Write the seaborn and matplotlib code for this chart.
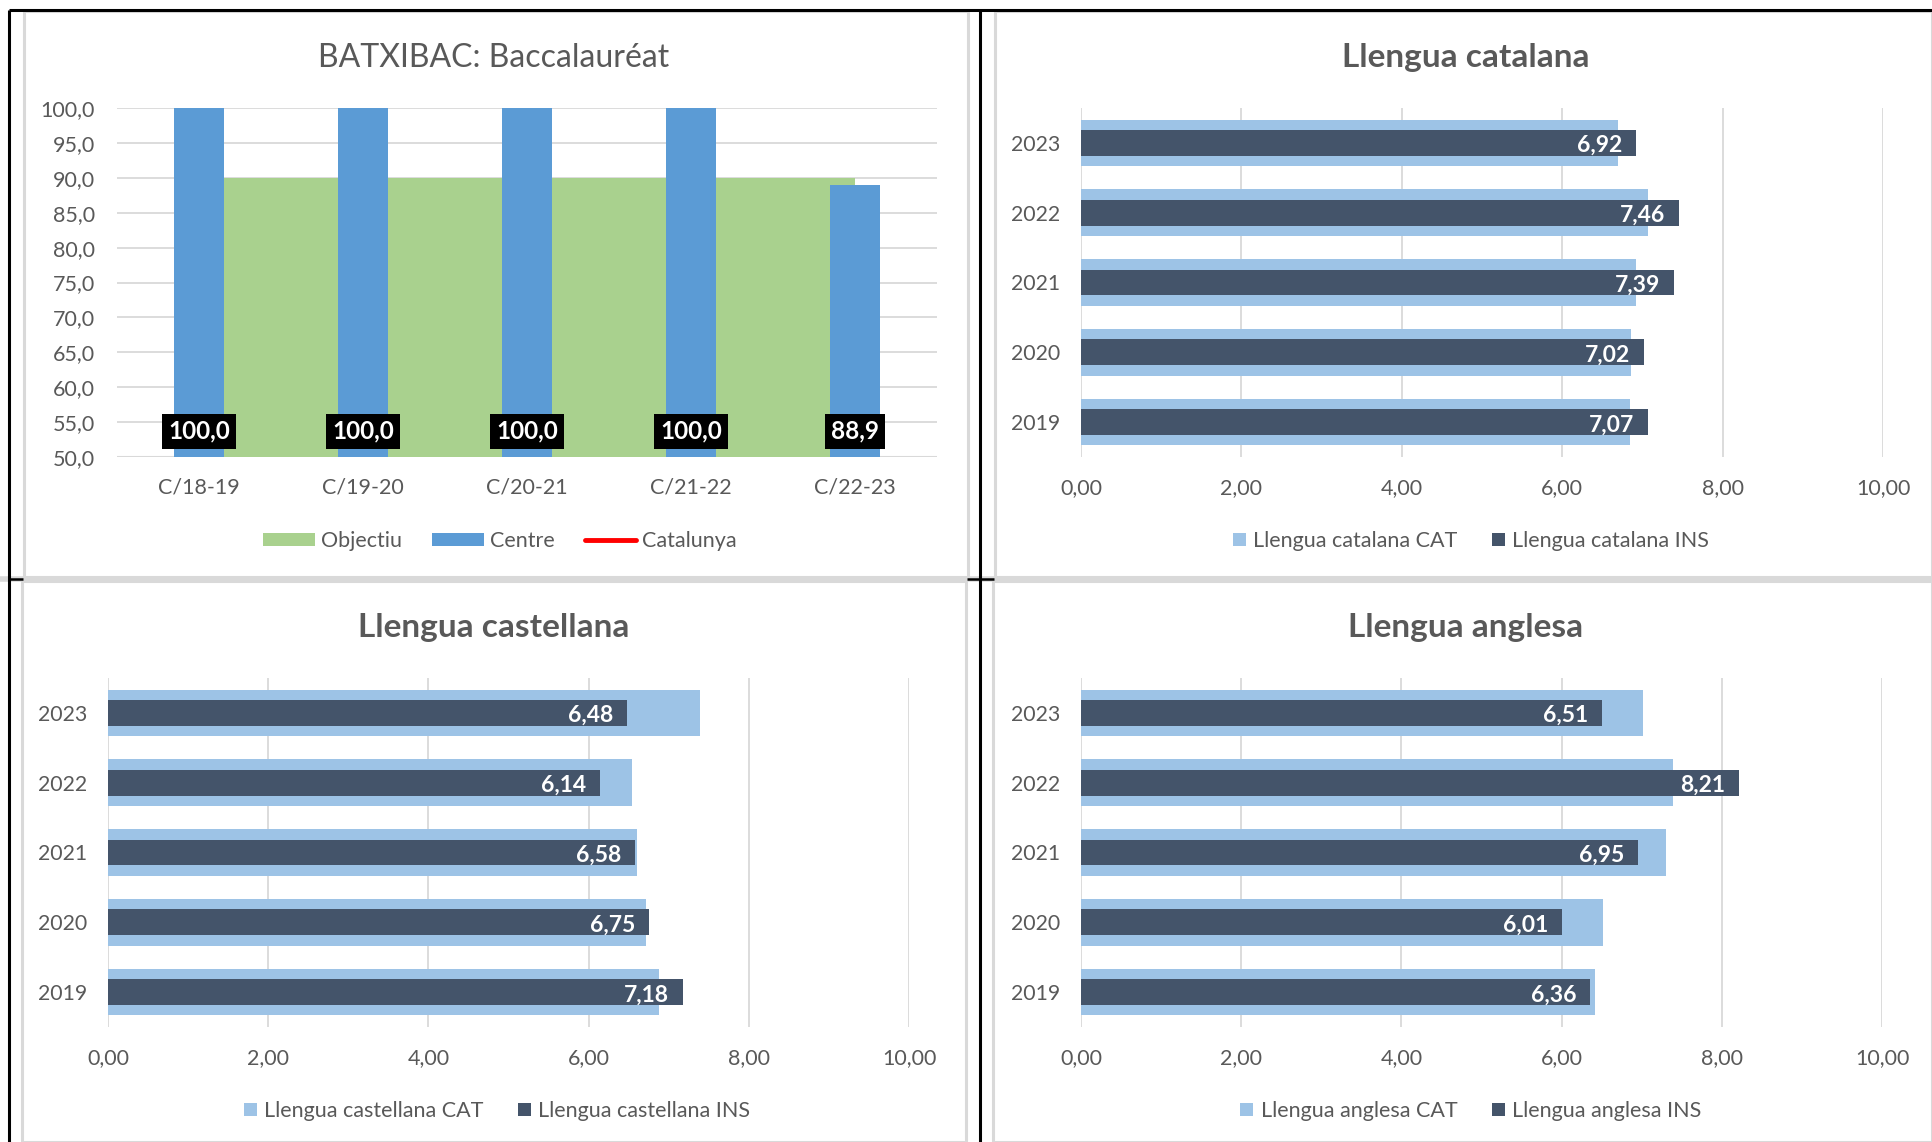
import matplotlib
matplotlib.use("Agg")
import matplotlib.pyplot as plt
import seaborn as sns
import pandas as pd
from matplotlib.lines import Line2D
from matplotlib.patches import Patch, Rectangle

# ---------------- data ----------------
courses = ["C/18-19", "C/19-20", "C/20-21", "C/21-22", "C/22-23"]
objectiu = [90.0, 90.0, 90.0, 90.0, 90.0]
centre = [100.0, 100.0, 100.0, 100.0, 88.9]

years = ["2023", "2022", "2021", "2020", "2019"]
catalana_cat = [6.69, 7.07, 6.92, 6.86, 6.85]
catalana_ins = [6.92, 7.46, 7.39, 7.02, 7.07]
castellana_cat = [7.39, 6.54, 6.60, 6.72, 6.88]
castellana_ins = [6.48, 6.14, 6.58, 6.75, 7.18]
anglesa_cat = [7.02, 7.39, 7.30, 6.52, 6.42]
anglesa_ins = [6.51, 8.21, 6.95, 6.01, 6.36]

y_ticks_top = [50, 55, 60, 65, 70, 75, 80, 85, 90, 95, 100]
x_ticks_h = [0, 2, 4, 6, 8, 10]

# ---------------- style ----------------
sns.set_theme(style="white")
plt.rcParams["font.family"] = ["Lato", "DejaVu Sans"]

TXT = "#595959"
GRID = "#D9D9D9"
GREEN = "#A9D18E"
BLUE = "#5B9BD5"
LBLUE = "#9DC3E6"
DARK = "#44546A"

W, H = 1932, 1142
fig = plt.figure(figsize=(W / 100, H / 100), dpi=100)
fig.patch.set_facecolor("white")


def ax_rect(l, r, t, b):
    return [l / W, 1 - b / H, (r - l) / W, (b - t) / H]


def fmt(v, d):
    return f"{v:.{d}f}".replace(".", ",")


# ---------- panel frames ----------
def px_line(x0, y0, x1, y1, color, lw):
    fig.add_artist(Line2D([x0 / W, x1 / W], [1 - y0 / H, 1 - y1 / H],
                          color=color, lw=lw, transform=fig.transFigure,
                          solid_capstyle="butt", zorder=0))


for (l, r, t, b) in [(24, 968, 11, 577), (995, 1932, 11, 577),
                     (22, 966, 581, 1142), (993, 1932, 581, 1142)]:
    fig.add_artist(Rectangle((l / W, 1 - b / H), (r - l) / W, (b - t) / H,
                             transform=fig.transFigure, fill=False,
                             edgecolor=GRID, lw=2.2, zorder=0))
px_line(0, 579, W, 579, GRID, 4.0)
px_line(9, 10, W, 10, "black", 2.2)
px_line(9, 10, 9, H, "black", 2.2)
px_line(980, 10, 980, H, "black", 2.2)
px_line(9, 579, 23, 579, "black", 1.8)
px_line(967, 579, 994, 579, "black", 1.8)

# ---------- top-left: BATXIBAC ----------
ax = fig.add_axes(ax_rect(117, 937, 108, 457))
df_tl = pd.DataFrame({"curs": courses, "centre": centre, "objectiu": objectiu})
ax.fill_between(range(len(courses)), 50, df_tl["objectiu"], color=GREEN,
                lw=0, zorder=1)
sns.barplot(data=df_tl, x="curs", y="centre", color=BLUE, width=0.31,
            saturation=1, linewidth=0, ax=ax, zorder=2)
ax.set_ylim(50, 100)
ax.set_xlim(-0.5, len(courses) - 0.5)
ax.set_yticks(y_ticks_top)
ax.set_yticklabels([fmt(v, 1) for v in y_ticks_top])
ax.yaxis.grid(True, color=GRID, lw=1.3)
ax.set_axisbelow(True)
for s in ax.spines.values():
    s.set_visible(False)
ax.axhline(50, color=GRID, lw=1.5, zorder=0.5)
ax.tick_params(axis="y", length=0, pad=16, labelsize=15.5, labelcolor=TXT)
ax.tick_params(axis="x", length=0, pad=15, labelsize=15.5, labelcolor=TXT)
ax.set_xlabel("")
ax.set_ylabel("")
for i, v in enumerate(centre):
    ax.annotate(fmt(v, 1), xy=(i, 50), xytext=(0, 18.5),
                textcoords="offset points", ha="center", va="center",
                color="white", fontsize=17.5, fontweight="bold", zorder=5,
                bbox=dict(boxstyle="square,pad=0.24", fc="black", ec="none"))
fig.text(494 / W, 1 - 58 / H, "BATXIBAC: Baccalauréat", ha="center",
         va="center", fontsize=23, color=TXT)
handles = [Patch(facecolor=GREEN, edgecolor="none", label="Objectiu"),
           Patch(facecolor=BLUE, edgecolor="none", label="Centre"),
           Line2D([0], [0], color="#FF0000", lw=3.5, label="Catalunya")]
fig.legend(handles=handles, loc="center", bbox_to_anchor=(500 / W, 1 - 541 / H),
           ncol=3, frameon=False, fontsize=15.5, labelcolor=TXT,
           handlelength=2.4, handleheight=0.56, handletextpad=0.28,
           columnspacing=1.4)


# ---------- horizontal bar charts ----------
def hbar_panel(rect, title, cat_vals, ins_vals, cat_lab, ins_lab, tcx, legx):
    l, r, t, b = rect
    a = fig.add_axes(ax_rect(l, r, t, b))
    df = pd.DataFrame({"year": years, "cat": cat_vals, "ins": ins_vals})
    sns.barplot(data=df, x="cat", y="year", orient="h", order=years,
                color=LBLUE, width=0.67, saturation=1, linewidth=0,
                ax=a, zorder=2)
    sns.barplot(data=df, x="ins", y="year", orient="h", order=years,
                color=DARK, width=0.37, saturation=1, linewidth=0,
                ax=a, zorder=3)
    a.set_xlim(0, 10)
    a.set_ylim(len(years) - 0.5, -0.5)
    a.set_xticks(x_ticks_h)
    a.set_xticklabels([fmt(v, 2) for v in x_ticks_h])
    a.xaxis.grid(True, color=GRID, lw=1.3)
    a.set_axisbelow(True)
    for s in a.spines.values():
        s.set_visible(False)
    a.tick_params(axis="y", length=0, pad=15, labelsize=15.3, labelcolor=TXT)
    a.tick_params(axis="x", length=0, pad=15, labelsize=15.5, labelcolor=TXT)
    a.set_xlabel("")
    a.set_ylabel("")
    for i, v in enumerate(ins_vals):
        a.annotate(fmt(v, 2), xy=(v, i), xytext=(-10, -2),
                   textcoords="offset points", ha="right", va="center",
                   color="white", fontsize=16.5, fontweight="bold", zorder=6)
    fig.text(tcx / W, 1 - (t - 51) / H, title, ha="center", va="center",
             fontsize=24, fontweight="bold", color=TXT)
    hs = [Patch(facecolor=LBLUE, edgecolor="none", label=cat_lab),
          Patch(facecolor=DARK, edgecolor="none", label=ins_lab)]
    fig.legend(handles=hs, loc="center", bbox_to_anchor=(legx / W, 1 - (b + 84) / H),
               ncol=2, frameon=False, fontsize=15.5, labelcolor=TXT,
               handlelength=0.6, handleheight=0.6, handletextpad=0.35,
               columnspacing=1.6)
    return a


hbar_panel((1081, 1883, 108, 457), "Llengua catalana", catalana_cat,
           catalana_ins, "Llengua catalana CAT", "Llengua catalana INS",
           1466, 1471)
hbar_panel((108, 909, 678, 1027), "Llengua castellana", castellana_cat,
           castellana_ins, "Llengua castellana CAT", "Llengua castellana INS",
           494, 497)
hbar_panel((1081, 1882, 678, 1027), "Llengua anglesa", anglesa_cat,
           anglesa_ins, "Llengua anglesa CAT", "Llengua anglesa INS",
           1466, 1471)

fig.savefig("out.png", dpi=100, facecolor="white")
